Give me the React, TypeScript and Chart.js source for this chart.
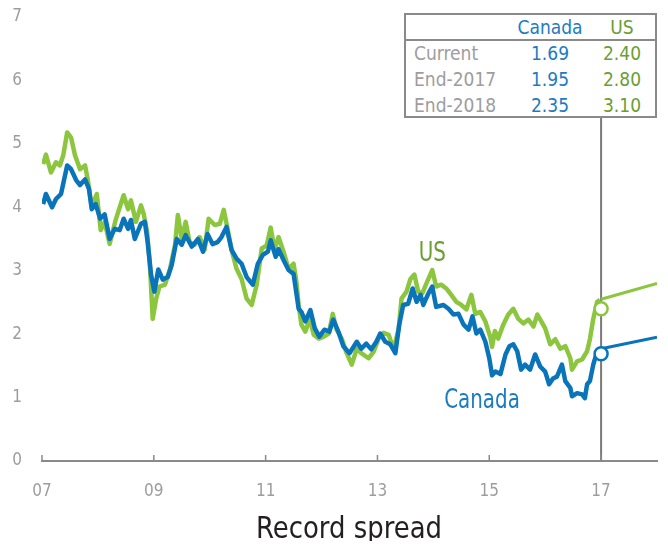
import React, { useEffect, useRef } from "react";
import { Chart, registerables } from "chart.js";

Chart.register(...registerables);

// ---------- data ----------
const usDates = [
  7.02, 7.07, 7.16, 7.25, 7.32, 7.38, 7.45, 7.52, 7.59, 7.68, 7.77, 7.82, 7.89, 7.98,
  8.05, 8.12, 8.21, 8.32, 8.46, 8.54, 8.59, 8.68, 8.77, 8.82, 8.88, 8.93, 8.98,
  9.04, 9.10, 9.20, 9.29, 9.38, 9.43, 9.50, 9.57, 9.64, 9.73, 9.82, 9.91, 9.98,
  10.09, 10.18, 10.25, 10.32, 10.39, 10.48, 10.57, 10.66, 10.75, 10.84, 10.93,
  11.02, 11.09, 11.16, 11.23, 11.32, 11.41, 11.50, 11.55, 11.59, 11.64, 11.71, 11.79, 11.86, 11.95,
  12.04, 12.13, 12.20, 12.27, 12.36, 12.45, 12.54, 12.63, 12.71, 12.84, 12.93,
  13.02, 13.11, 13.20, 13.29, 13.38, 13.43, 13.52, 13.59, 13.66, 13.73, 13.80, 13.89, 13.98,
  14.05, 14.14, 14.23, 14.32, 14.41, 14.50, 14.59, 14.68, 14.75, 14.84, 14.93,
  15.02, 15.05, 15.10, 15.16, 15.25, 15.34, 15.43, 15.52, 15.61, 15.70, 15.79, 15.86, 15.93,
  16.00, 16.09, 16.18, 16.27, 16.36, 16.45, 16.48, 16.57, 16.66, 16.75, 16.80, 16.86, 16.93, 16.98,
];
const usValues = [
  4.68, 4.83, 4.55, 4.71, 4.66, 4.82, 5.18, 5.10, 4.82, 4.60, 4.66, 4.43, 4.00, 4.21,
  3.64, 3.77, 3.42, 3.81, 4.19, 3.97, 4.11, 3.77, 4.03, 3.89, 3.61, 3.09, 2.24,
  2.55, 2.75, 2.78, 3.03, 3.41, 3.88, 3.50, 3.77, 3.45, 3.41, 3.53, 3.33, 3.82,
  3.72, 3.74, 3.96, 3.66, 3.33, 3.03, 2.87, 2.56, 2.46, 2.78, 3.35,
  3.40, 3.68, 3.34, 3.53, 3.30, 3.03, 3.11, 2.83, 2.46, 2.15, 2.04, 2.24, 1.99, 1.93,
  1.96, 2.01, 2.32, 2.07, 1.93, 1.70, 1.52, 1.77, 1.70, 1.62, 1.72,
  1.93, 2.02, 1.99, 1.76, 2.09, 2.56, 2.67, 2.87, 2.94, 2.67, 2.64, 2.83, 3.01,
  2.75, 2.78, 2.72, 2.62, 2.51, 2.46, 2.39, 2.62, 2.32, 2.35, 2.20,
  1.95, 1.80, 2.05, 1.93, 2.15, 2.31, 2.40, 2.24, 2.17, 2.23, 2.12, 2.31, 2.20,
  2.09, 1.84, 1.92, 1.77, 1.81, 1.62, 1.44, 1.57, 1.60, 1.73, 1.92, 2.24, 2.51, 2.54,
];
const canadaDates = [
  7.02, 7.07, 7.18, 7.25, 7.34, 7.45, 7.52, 7.61, 7.68, 7.77, 7.84, 7.89, 7.96,
  8.04, 8.12, 8.21, 8.30, 8.39, 8.46, 8.54, 8.59, 8.66, 8.77, 8.84, 8.89, 8.95,
  9.01, 9.08, 9.16, 9.25, 9.32, 9.41, 9.50, 9.57, 9.68, 9.79, 9.88, 9.96,
  10.05, 10.14, 10.21, 10.30, 10.39, 10.48, 10.57, 10.66, 10.77, 10.86, 10.95,
  11.04, 11.09, 11.18, 11.23, 11.32, 11.41, 11.50, 11.59, 11.64, 11.71, 11.80, 11.88, 11.96,
  12.05, 12.14, 12.21, 12.30, 12.39, 12.50, 12.63, 12.71, 12.80, 12.89, 12.98,
  13.05, 13.14, 13.23, 13.32, 13.39, 13.46, 13.55, 13.63, 13.70, 13.77, 13.82, 13.91, 13.98,
  14.05, 14.18, 14.27, 14.36, 14.45, 14.54, 14.63, 14.70, 14.77, 14.84, 14.93,
  15.00, 15.05, 15.11, 15.20, 15.29, 15.36, 15.43, 15.50, 15.57, 15.64, 15.73, 15.82, 15.91,
  16.00, 16.07, 16.14, 16.21, 16.30, 16.36, 16.45, 16.48, 16.57, 16.66, 16.71, 16.75, 16.80, 16.86, 16.93, 16.98,
];
const canadaValues = [
  4.05, 4.21, 4.00, 4.13, 4.21, 4.66, 4.60, 4.43, 4.35, 4.44, 4.29, 3.97, 4.05,
  3.82, 3.89, 3.50, 3.66, 3.64, 3.82, 3.66, 3.80, 3.50, 3.74, 3.77, 3.45, 2.94,
  2.67, 3.02, 2.86, 2.90, 3.09, 3.50, 3.41, 3.56, 3.38, 3.50, 3.30, 3.58,
  3.42, 3.45, 3.53, 3.69, 3.33, 3.19, 3.11, 2.90, 2.78, 3.11, 3.25,
  3.30, 3.48, 3.22, 3.34, 3.17, 3.01, 2.95, 2.40, 2.35, 2.20, 2.38, 2.09, 1.96,
  2.07, 2.04, 2.23, 2.04, 1.81, 1.70, 1.88, 1.77, 1.85, 1.76, 1.88,
  2.01, 1.88, 1.84, 1.70, 2.15, 2.46, 2.48, 2.72, 2.51, 2.62, 2.46, 2.64, 2.75,
  2.43, 2.46, 2.40, 2.31, 2.32, 2.15, 2.07, 2.28, 2.01, 2.07, 1.88,
  1.62, 1.35, 1.41, 1.37, 1.68, 1.81, 1.84, 1.73, 1.44, 1.52, 1.44, 1.68, 1.49,
  1.41, 1.21, 1.30, 1.33, 1.52, 1.26, 1.15, 1.02, 1.07, 1.05, 0.99, 1.21, 1.26, 1.52, 1.73, 1.77,
];
const forecastDates = [17, 18];
const usForecast = [2.55, 2.8];
const canadaForecast = [1.77, 1.95];
const currentDate = 17;

const tableRows = ["Current", "End-2017", "End-2018"];
const canadaTable = ["1.69", "1.95", "2.35"];
const usTable = ["2.40", "2.80", "3.10"];

const xTickValues = [7, 9, 11, 13, 15, 17];
const xTickLabels = ["07", "09", "11", "13", "15", "17"];
const yTickValues = [0, 1, 2, 3, 4, 5, 6, 7];
const chartTitle = "Record spread";

// ---------- styles ----------
const FONT = '"DejaVu Sans Condensed", "Liberation Sans Narrow", "Open Sans", sans-serif';
const US_LINE = "#8cc63f";
const CA_LINE = "#0a74bb";
const US_TEXT = "#6b9e33";
const CA_TEXT = "#1b7cc2";
const GRAY_TEXT = "#9d9d9d";
const AXIS = "#8a8a8a";

function condensedText(ctx: any, text: string, px: number, py: number, size: number, color: string) {
  ctx.save();
  ctx.translate(px, py);
  ctx.scale(0.85, 1);
  ctx.font = `${size}px ${FONT}`;
  ctx.fillStyle = color;
  ctx.textAlign = "center";
  ctx.textBaseline = "alphabetic";
  ctx.fillText(text, 0, 0);
  ctx.restore();
}

const decorPlugin = {
  id: "decor",
  beforeDatasetsDraw(chart: any) {
    const { ctx, chartArea, scales } = chart;
    const x = scales.x;
    const y = scales.y;
    const y0 = y.getPixelForValue(0);
    ctx.save();
    const vx = x.getPixelForValue(currentDate);
    ctx.strokeStyle = "#7a7a7a";
    ctx.lineWidth = 2;
    ctx.beginPath();
    ctx.moveTo(vx, chartArea.top);
    ctx.lineTo(vx, y0);
    ctx.stroke();
    ctx.strokeStyle = AXIS;
    ctx.lineWidth = 1.5;
    ctx.beginPath();
    xTickValues.forEach((v) => {
      const px = x.getPixelForValue(v);
      ctx.moveTo(px, y0);
      ctx.lineTo(px, y0 - 6);
    });
    ctx.stroke();
    ctx.restore();
  },
  afterDatasetsDraw(chart: any) {
    const { ctx, scales } = chart;
    const x = scales.x;
    const y = scales.y;
    condensedText(ctx, "US", x.getPixelForValue(13.98), y.getPixelForValue(3.16), 26, US_TEXT);
    condensedText(ctx, "Canada", x.getPixelForValue(14.87), y.getPixelForValue(0.83), 26, CA_TEXT);
  },
};

function pts(xs: number[], ys: number[]) {
  return xs.map((v, i) => ({ x: v, y: ys[i] }));
}

export default function App() {
  const ref = useRef<HTMLCanvasElement | null>(null);

  useEffect(() => {
    if (!ref.current) return;
    const chart = new Chart(ref.current, {
      type: "line",
      data: {
        datasets: [
          {
            label: "US current",
            data: [{ x: currentDate, y: parseFloat(usTable[0]) }],
            showLine: false,
            pointRadius: 6.5,
            pointBorderWidth: 2.5,
            pointBackgroundColor: "#ffffff",
            pointBorderColor: US_LINE,
            borderColor: US_LINE,
          },
          {
            label: "Canada current",
            data: [{ x: currentDate, y: parseFloat(canadaTable[0]) }],
            showLine: false,
            pointRadius: 6.5,
            pointBorderWidth: 2.5,
            pointBackgroundColor: "#ffffff",
            pointBorderColor: CA_LINE,
            borderColor: CA_LINE,
          },
          {
            label: "US forecast",
            data: pts(forecastDates, usForecast),
            borderColor: US_LINE,
            borderWidth: 3,
            pointRadius: 0,
          },
          {
            label: "Canada forecast",
            data: pts(forecastDates, canadaForecast),
            borderColor: CA_LINE,
            borderWidth: 3,
            pointRadius: 0,
          },
          {
            label: "Canada",
            data: pts(canadaDates, canadaValues),
            borderColor: CA_LINE,
            borderWidth: 4.5,
            pointRadius: 0,
            borderJoinStyle: "round",
          },
          {
            label: "US",
            data: pts(usDates, usValues),
            borderColor: US_LINE,
            borderWidth: 4.5,
            pointRadius: 0,
            borderJoinStyle: "round",
          },
        ],
      },
      options: {
        animation: false,
        responsive: true,
        maintainAspectRatio: false,
        layout: { autoPadding: false, padding: { top: 9, right: 3, bottom: 40, left: 0 } },
        plugins: {
          legend: { display: false },
          tooltip: { enabled: false },
          title: { display: false },
        },
        scales: {
          x: {
            type: "linear",
            min: 7,
            max: 18,
            border: { display: true, color: AXIS, width: 2 },
            grid: { display: false, drawTicks: false },
            afterBuildTicks: (s: any) => {
              s.ticks = xTickValues.map((v) => ({ value: v }));
            },
            afterFit: (s: any) => {
              s.height = 40;
              s.paddingLeft = 0;
              s.paddingRight = 0;
            },
            ticks: {
              padding: 20,
              maxRotation: 0,
              autoSkip: false,
              color: GRAY_TEXT,
              font: { family: FONT, size: 17 },
              callback: (v: any) => {
                const i = xTickValues.indexOf(Number(v));
                return i >= 0 ? xTickLabels[i] : "";
              },
            },
          },
          y: {
            min: 0,
            max: 7,
            border: { display: false },
            grid: { display: false, drawTicks: false },
            afterBuildTicks: (s: any) => {
              s.ticks = yTickValues.map((v) => ({ value: v }));
            },
            afterFit: (s: any) => {
              s.width = 34;
              s.paddingTop = 0;
              s.paddingBottom = 0;
            },
            ticks: {
              padding: 20,
              color: GRAY_TEXT,
              font: { family: FONT, size: 17 },
            },
          },
        },
      },
      plugins: [decorPlugin],
    });
    return () => chart.destroy();
  }, []);

  const cell = (text: string, left: number, width: number, top: number, color: string, align: "left" | "center") => (
    <div
      key={text + left + top}
      style={{
        position: "absolute",
        left,
        width,
        top,
        height: 26,
        lineHeight: "26px",
        textAlign: align,
        color,
        whiteSpace: "nowrap",
      }}
    >
      {text}
    </div>
  );

  return (
    <div style={{ position: "relative", width: "100%", height: 533, fontFamily: FONT }}>
      <div style={{ position: "absolute", left: 0, top: 0, width: "100%", height: 533 }}>
        <canvas ref={ref} />
      </div>
      <div
        style={{
          position: "absolute",
          left: 396,
          top: 5,
          width: 253,
          height: 105,
          boxSizing: "border-box",
          border: `2px solid ${AXIS}`,
          background: "#ffffff",
          fontSize: 19,
        }}
      >
        {cell("Canada", 104, 80, -1, CA_TEXT, "center")}
        {cell("US", 186, 60, -1, US_TEXT, "center")}
        <div style={{ position: "absolute", left: 0, right: 0, top: 24, height: 2, background: AXIS }} />
        {tableRows.map((r, i) => (
          <React.Fragment key={r}>
            {cell(r, 8, 100, 25 + 26 * i, GRAY_TEXT, "left")}
            {cell(canadaTable[i], 104, 80, 25 + 26 * i, CA_TEXT, "center")}
            {cell(usTable[i], 186, 60, 25 + 26 * i, US_TEXT, "center")}
          </React.Fragment>
        ))}
      </div>
      <div
        style={{
          position: "absolute",
          left: 34,
          width: 615,
          top: 505,
          height: 28,
          textAlign: "center",
          fontSize: 31,
          lineHeight: "28px",
          color: "#231f20",
        }}
      >
        <span style={{ display: "inline-block", transform: "scaleX(0.93)" }}>{chartTitle}</span>
      </div>
    </div>
  );
}
